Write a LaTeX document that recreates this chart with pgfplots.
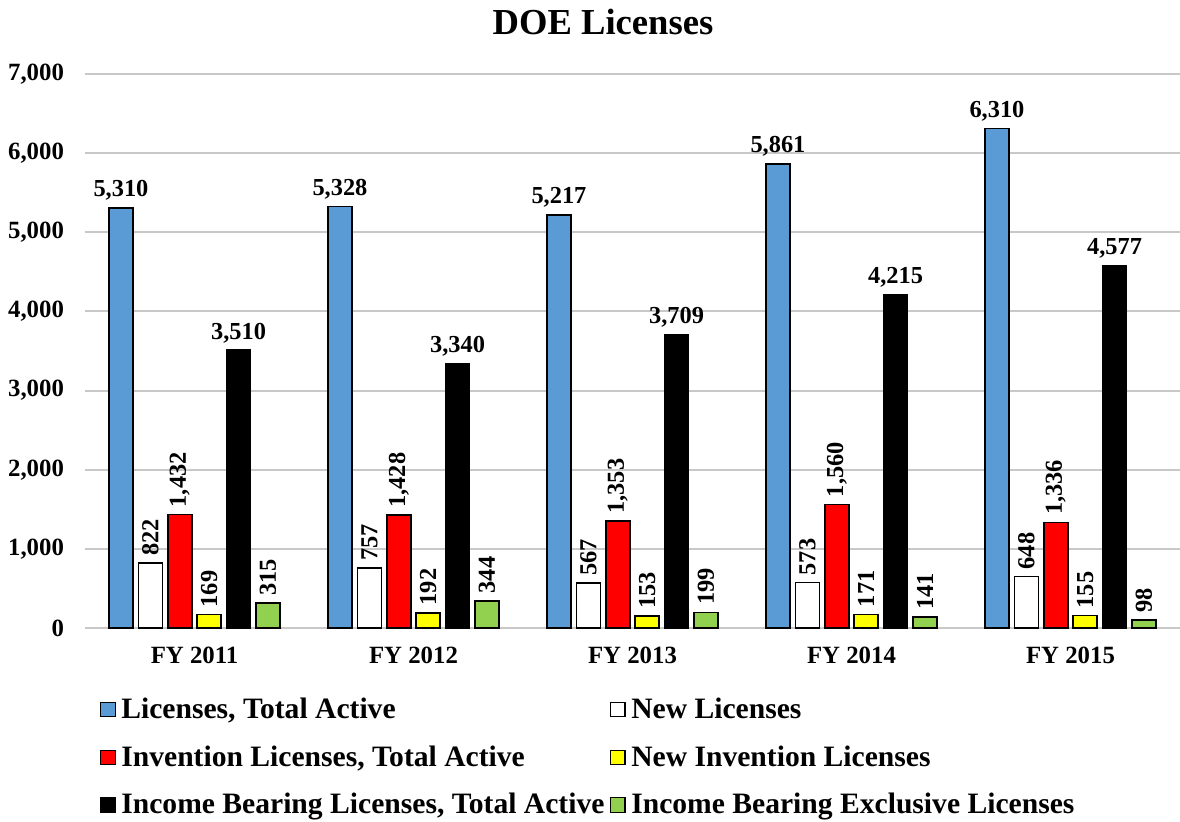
\documentclass[border=0pt]{standalone}
\usepackage{fontspec}
\setmainfont{Liberation Serif}
\usepackage{pgfplots}
\pgfplotsset{compat=1.18}

\definecolor{cblue}{HTML}{5B9BD5}
\definecolor{cred}{HTML}{FF0000}
\definecolor{cyel}{HTML}{FFFF00}
\definecolor{cgreen}{HTML}{92D050}
\definecolor{grid}{HTML}{C8C8C8}

% FY 2011 .. FY 2015
\pgfplotstableread{
x total new inv newinv income excl
0 5310 822 1432 169 3510 315
1 5328 757 1428 192 3340 344
2 5217 567 1353 153 3709 199
3 5861 573 1560 171 4215 141
4 6310 648 1336 155 4577 98
}\licdata

\begin{document}
\begin{tikzpicture}
\useasboundingbox (-42.5pt,-96.5pt) rectangle (547.5pt,314pt);
\begin{axis}[
    scale only axis,
    width=547.5pt, height=277pt,
    ybar, bar width=12pt,
    xmin=-0.5, xmax=4.5, ymin=0, ymax=7000,
    xtick=data,
    xticklabels={FY 2011,FY 2012,FY 2013,FY 2014,FY 2015},
    ytick={0,1000,...,7000},
    ymajorgrids,
    grid style={draw=grid, line width=1pt},
    axis line style={draw=none},
    major tick length=0pt,
    /pgf/number format/assume math mode=true,
    /pgf/number format/1000 sep={,},
    scaled y ticks=false,
    ticklabel style={font=\fontsize{12.4}{14}\selectfont\bfseries},
    yticklabel style={xshift=-7pt},
    xticklabel style={yshift=-6pt},
    title={DOE Licenses},
    title style={font=\fontsize{18.3}{22}\selectfont\bfseries, at={(0.473,1)}, anchor=center, yshift=20pt},
    nodes near coords,
    nodes near coords style={font=\fontsize{12.2}{14}\selectfont\bfseries, text=black},
    every axis plot/.append style={draw=black, line width=0.75pt},
    legend columns=2,
    legend cell align=left,
    legend style={at={(0.008,-0.108)}, anchor=north west, draw=none,
        font=\fontsize{14.8}{17}\selectfont\bfseries,
        row sep=6.5pt, column sep=0pt,
        nodes={inner sep=2.8pt}},
    legend image code/.code={\draw[#1, line width=0.6pt] (0pt,-3.6pt) rectangle (7.2pt,3.6pt);},
]
\addplot[fill=cblue, bar shift=-36.75pt] table[x=x, y=total] {\licdata};
\addlegendentry{Licenses, Total Active}
\addplot[fill=white, bar shift=-22.05pt, nodes near coords style={rotate=90, anchor=west}] table[x=x, y=new] {\licdata};
\addlegendentry{New Licenses}
\addplot[fill=cred, bar shift=-7.35pt, nodes near coords style={rotate=90, anchor=west}] table[x=x, y=inv] {\licdata};
\addlegendentry{Invention Licenses, Total Active}
\addplot[fill=cyel, bar shift=7.35pt, nodes near coords style={rotate=90, anchor=west}] table[x=x, y=newinv] {\licdata};
\addlegendentry{New Invention Licenses}
\addplot[fill=black, bar shift=22.05pt] table[x=x, y=income] {\licdata};
\addlegendentry{Income Bearing Licenses, Total Active}
\addplot[fill=cgreen, bar shift=36.75pt, nodes near coords style={rotate=90, anchor=west}] table[x=x, y=excl] {\licdata};
\addlegendentry{Income Bearing Exclusive Licenses}
\end{axis}
\end{tikzpicture}
\end{document}
